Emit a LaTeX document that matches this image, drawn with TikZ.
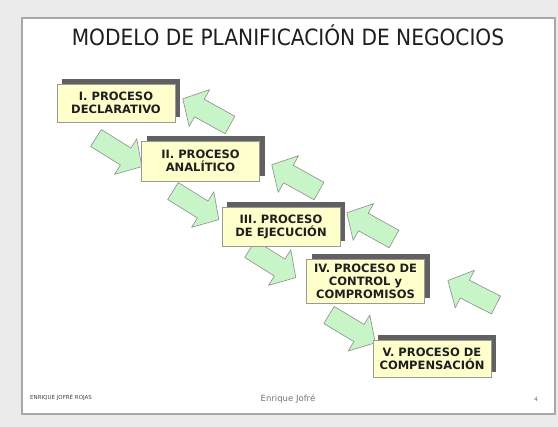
\documentclass[tikz,border=0pt]{standalone}
\usepackage{fontspec}
\setmainfont{DejaVu Sans}
\newfontfamily\titlefont{DejaVu Sans Condensed}
\usetikzlibrary{shadows}
\definecolor{pagebg}{HTML}{EBEBEB}
\definecolor{slideborder}{HTML}{A8A8A8}
\definecolor{boxfill}{HTML}{FFFFCC}
\definecolor{boxline}{HTML}{9A9A9A}
\definecolor{arrowfill}{HTML}{C8F5C8}
\definecolor{arrowline}{HTML}{8C8C8C}
\definecolor{inktext}{HTML}{1E1E1E}
\tikzset{
  procbox/.style={draw=boxline, line width=0.6pt, fill=boxfill, inner sep=0pt,
    align=center, font=\fontsize{11.5}{13}\selectfont\bfseries, text=inktext,
    minimum width=118pt,
    drop shadow={shadow xshift=5pt, shadow yshift=5pt, opacity=1, fill=black!62}},
  arrowstyle/.style={draw=arrowline, line width=0.6pt, fill=arrowfill, line join=round},
  blockarrow/.pic={\path[arrowstyle] (0,-10) -- (35,-10) -- (35,-21) -- (54,0) -- (35,21) -- (35,10) -- (0,10) -- cycle;},
  footnote/.style={inner sep=0pt, text=black!55}
}
\begin{document}
\begin{tikzpicture}[x=1pt, y=-1pt]
\useasboundingbox (0,0) rectangle (558,427);
\fill[pagebg] (0,0) rectangle (558,427);
\draw[slideborder, line width=1.2pt, fill=white] (22,18) rectangle (555,414);
% title
\node[anchor=base, inner sep=0pt, text=inktext, font=\titlefont\fontsize{22.4}{26}\selectfont] (title) at (288,46) {MODELO DE PLANIFICACIÓN DE NEGOCIOS};
% arrows down-right
\pic[rotate=-32] at (96,138) {blockarrow};
\pic[rotate=-32] at (173,191) {blockarrow};
\pic[rotate=-32] at (250,249) {blockarrow};
\pic[rotate=-31] at (329,315) {blockarrow};
% arrows up-left
\pic[rotate=151] at (230,125) {blockarrow};
\pic[rotate=151] at (319,191) {blockarrow};
\pic[rotate=151] at (394,239) {blockarrow};
\pic[rotate=153] at (496,305) {blockarrow};
% boxes
\node[procbox, minimum height=38pt] (b1) at (116,103) {I. PROCESO\\DECLARATIVO};
\node[procbox, minimum height=40pt] (b2) at (200.5,161) {II. PROCESO\\ANALÍTICO};
\node[procbox, minimum height=39pt] (b3) at (281,226.5) {III. PROCESO\\DE EJECUCIÓN};
\node[procbox, minimum height=44pt] (b4) at (365.5,281) {IV. PROCESO DE\\CONTROL y\\COMPROMISOS};
\node[procbox, minimum height=37pt] (b5) at (432,358.5) {V. PROCESO DE\\COMPENSACIÓN};
% footer
\node[footnote, anchor=west, text=black!75, font=\fontsize{5.5}{6}\selectfont] (fl) at (30,398) {ENRIQUE JOFRÉ ROJAS};
\node[footnote, font=\fontsize{8.5}{10}\selectfont] (fm) at (288,399) {Enrique Jofré};
\node[footnote, font=\fontsize{6}{7}\selectfont] (fr) at (536,399) {4};
\end{tikzpicture}
\end{document}
